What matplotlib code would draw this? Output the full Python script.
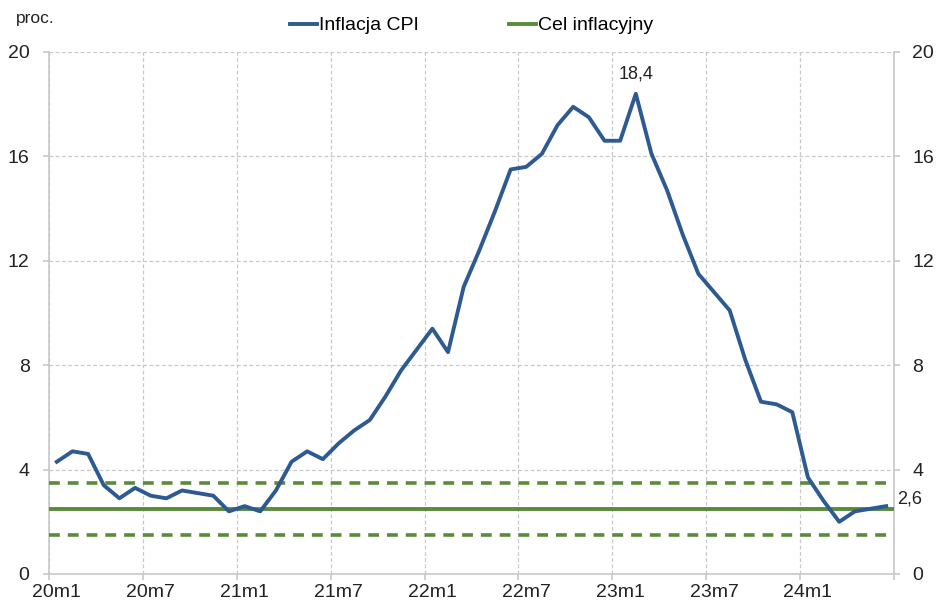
import numpy as np
import matplotlib
matplotlib.use("Agg")
import matplotlib.pyplot as plt

plt.rcParams['font.family'] = ['Liberation Sans', 'DejaVu Sans']

# monthly CPI y/y, 2020m1 - 2024m6
cpi = [4.3, 4.7, 4.6, 3.4, 2.9, 3.3, 3.0, 2.9, 3.2, 3.1, 3.0, 2.4,
       2.6, 2.4, 3.2, 4.3, 4.7, 4.4, 5.0, 5.5, 5.9, 6.8, 7.8, 8.6,
       9.4, 8.5, 11.0, 12.4, 13.9, 15.5, 15.6, 16.1, 17.2, 17.9, 17.5, 16.6,
       16.6, 18.4, 16.1, 14.7, 13.0, 11.5, 10.8, 10.1, 8.2, 6.6, 6.5, 6.2,
       3.7, 2.8, 2.0, 2.4, 2.5, 2.6]
target = 2.5
band_lo, band_hi = 1.5, 3.5
tick_labels = ['20m1', '20m7', '21m1', '21m7', '22m1', '22m7', '23m1', '23m7', '24m1']

blue = '#2E5A92'
green = '#5A8B3C'
grid_c = '#C8C8C8'
txt_c = '#222222'

n = len(cpi)
x = np.arange(n) + 0.5
xmax = 54

fig = plt.figure(figsize=(9.38, 6.07), dpi=100)
ax = fig.add_axes([49 / 938, 1 - 574 / 607, (894 - 49) / 938, (574 - 52) / 607])

ax.plot(x, cpi, color=blue, lw=2.8, label='Inflacja CPI', zorder=4)
ax.plot([0, xmax], [target, target], color=green, lw=2.8, label='Cel inflacyjny', zorder=3)
ax.plot([0, xmax], [band_hi, band_hi], color=green, lw=2.6, ls=(0, (3, 2.2)), zorder=3)
ax.plot([0, xmax], [band_lo, band_lo], color=green, lw=2.6, ls=(0, (3, 2.2)), zorder=3)

ax.set_xlim(0, xmax)
ax.set_ylim(0, 20)
# ticks on month boundaries, labels centred on the month
ax.set_xticks(np.arange(0, xmax + 1, 6))
ax.set_xticklabels([])
ax.set_xticks(np.arange(0, xmax, 6) + 0.5, minor=True)
ax.set_xticklabels(tick_labels, minor=True)
ax.tick_params(axis='x', which='minor', length=0, labelsize=14, labelcolor=txt_c, pad=7)
ax.set_yticks(np.arange(0, 21, 4))

ax.grid(True, which='major', color=grid_c, ls=(0, (3, 2)), lw=0.9)
ax.set_axisbelow(True)
ax.spines['top'].set_visible(False)
for s in ['left', 'bottom', 'right']:
    ax.spines[s].set_color(grid_c)
    ax.spines[s].set_linewidth(1.2)
ax.tick_params(axis='both', which='major', color=grid_c, length=4.5, width=1.2,
               labelsize=14, labelcolor=txt_c)
ax.tick_params(axis='y', pad=9.5)

ax2 = ax.twinx()
ax2.set_ylim(0, 20)
ax2.set_yticks(np.arange(0, 21, 4))
for s in ax2.spines.values():
    s.set_visible(False)
ax2.tick_params(axis='y', color=grid_c, length=4.5, width=1.2, labelsize=14,
                labelcolor=txt_c, pad=8.5)

i_peak = int(np.argmax(cpi))
ax.annotate('18,4', (x[i_peak], cpi[i_peak]), xytext=(0, 8), textcoords='offset points',
            ha='center', va='bottom', fontsize=13, color=txt_c)
ax.annotate('2,6', (x[-1], cpi[-1]), xytext=(8, 5), textcoords='offset points',
            ha='left', va='center', fontsize=13, color=txt_c, annotation_clip=False)

fig.text(16 / 938, 1 - 19 / 607, 'proc.', fontsize=12.5, color=txt_c, va='center')

ax.legend(loc='lower center', bbox_to_anchor=(0.5, 1.0), ncol=2, frameon=False,
          fontsize=14, handlelength=1.4, handletextpad=0.1, columnspacing=4.6,
          borderaxespad=0.5)

fig.savefig('out.png', dpi=100)
